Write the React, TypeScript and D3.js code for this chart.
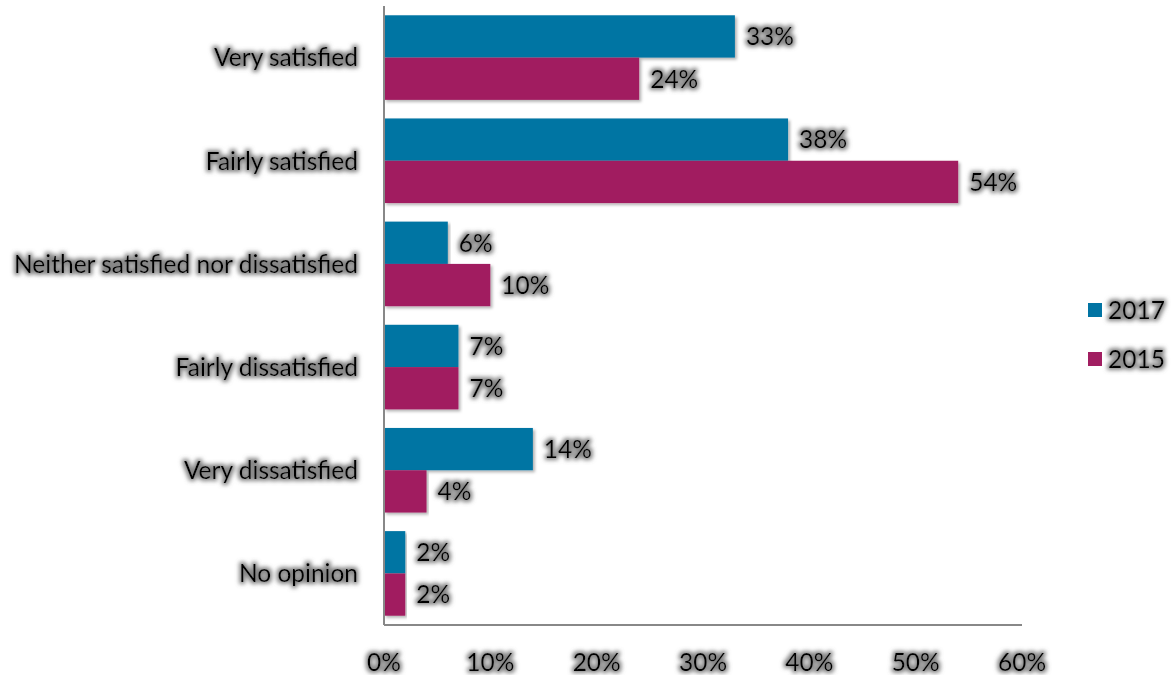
import React from "react";
import * as d3 from "d3";

const categories = [
  "Very satisfied",
  "Fairly satisfied",
  "Neither satisfied nor dissatisfied",
  "Fairly dissatisfied",
  "Very dissatisfied",
  "No opinion",
];
const series2017 = [33, 38, 6, 7, 14, 2];
const series2015 = [24, 54, 10, 7, 4, 2];
const seriesNames = ["2017", "2015"];
const colors = ["#0174A3", "#A11E61"];
const ticks = [0, 10, 20, 30, 40, 50, 60];

const W = 1172;
const H = 675;
const left = 384;
const right = 1022;
const top = 6;
const bottom = 625;
const font = "Lato, 'Open Sans', sans-serif";

export default function App() {
  const x = d3.scaleLinear().domain([0, 60]).range([left, right]);
  const y = d3.scaleBand<string>().domain(categories).range([top, bottom]).paddingInner(0.18).paddingOuter(0.09);
  const sub = d3.scaleBand<string>().domain(seriesNames).range([0, y.bandwidth()]);
  const data = [series2017, series2015];
  const textStyle: React.CSSProperties = { fontFamily: font, fontSize: 24.5, fill: "#000" };
  return (
    <svg width={W} height={H} style={{ position: "absolute", left: 0, top: 0, background: "#fff" }}>
      <defs>
        <filter id="glow" x="-20%" y="-50%" width="140%" height="200%">
          <feMorphology in="SourceAlpha" operator="dilate" radius="1.5" result="d" />
          <feGaussianBlur in="d" stdDeviation="2" result="b" />
          <feFlood floodColor="#777" floodOpacity="0.9" />
          <feComposite in2="b" operator="in" result="s" />
          <feMerge>
            <feMergeNode in="s" />
            <feMergeNode in="SourceGraphic" />
          </feMerge>
        </filter>
        <filter id="shadow" x="-5%" y="-10%" width="110%" height="130%">
          <feGaussianBlur in="SourceAlpha" stdDeviation="1.5" />
          <feOffset dx="2" dy="2" result="o" />
          <feFlood floodColor="#000" floodOpacity="0.3" />
          <feComposite in2="o" operator="in" result="s" />
          <feMerge>
            <feMergeNode in="s" />
            <feMergeNode in="SourceGraphic" />
          </feMerge>
        </filter>
      </defs>
      {categories.map((c, i) => (
        <g key={c}>
          {data.map((s, j) => {
            const y0 = (y(c) as number) + (sub(seriesNames[j]) as number);
            const h = sub.bandwidth();
            return (
              <g key={j}>
                <rect x={x(0)} y={y0} width={x(s[i]) - x(0)} height={h} fill={colors[j]} filter="url(#shadow)" />
                <text x={x(s[i]) + 11} y={y0 + h / 2} dy="0.36em" style={textStyle} filter="url(#glow)">
                  {s[i]}%
                </text>
              </g>
            );
          })}
          <text
            x={left - 26}
            y={(y(c) as number) + y.bandwidth() / 2}
            dy="0.36em"
            textAnchor="end"
            style={textStyle}
            filter="url(#glow)"
          >
            {c}
          </text>
        </g>
      ))}
      <line x1={left} x2={left} y1={top} y2={bottom} stroke="#888" strokeWidth={2} />
      <line x1={left} x2={right} y1={bottom} y2={bottom} stroke="#888" strokeWidth={2} />
      {ticks.map((t) => (
        <text key={t} x={x(t)} y={662} dy="0.36em" textAnchor="middle" style={textStyle} filter="url(#glow)">
          {t}%
        </text>
      ))}
      {seriesNames.map((n, j) => (
        <g key={n}>
          <rect x={1088} y={303 + j * 49} width={14} height={14} fill={colors[j]} />
          <text x={1108} y={310 + j * 49} dy="0.36em" style={textStyle} filter="url(#glow)">
            {n}
          </text>
        </g>
      ))}
    </svg>
  );
}
